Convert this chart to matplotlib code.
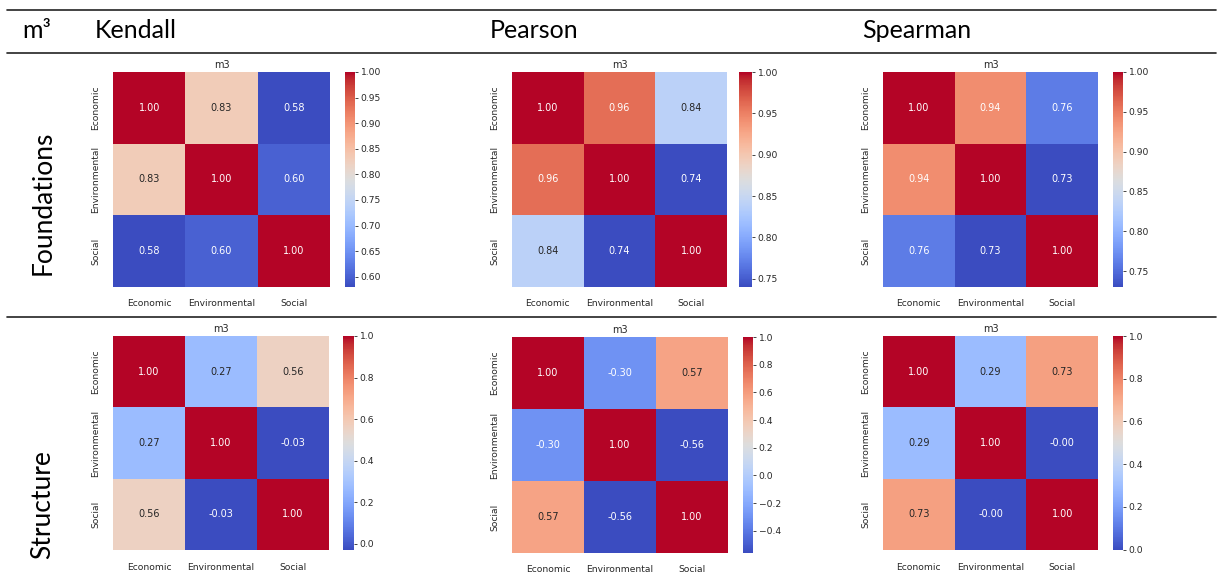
import matplotlib
matplotlib.use("Agg")
import matplotlib.pyplot as plt
import seaborn as sns
import numpy as np
from matplotlib.lines import Line2D

# correlation matrices
labels = ["Economic", "Environmental", "Social"]
methods = ["Kendall", "Pearson", "Spearman"]
rows = ["Foundations", "Structure"]

kendall_found = [[1.00, 0.83, 0.58],
                 [0.83, 1.00, 0.60],
                 [0.58, 0.60, 1.00]]
pearson_found = [[1.00, 0.96, 0.84],
                 [0.96, 1.00, 0.74],
                 [0.84, 0.74, 1.00]]
spearman_found = [[1.00, 0.94, 0.76],
                  [0.94, 1.00, 0.73],
                  [0.76, 0.73, 1.00]]
kendall_struct = [[1.00, 0.27, 0.56],
                  [0.27, 1.00, -0.03],
                  [0.56, -0.03, 1.00]]
pearson_struct = [[1.00, -0.30, 0.57],
                  [-0.30, 1.00, -0.56],
                  [0.57, -0.56, 1.00]]
spearman_struct = [[1.00, 0.29, 0.73],
                   [0.29, 1.00, -0.002],
                   [0.73, -0.002, 1.00]]

W, H = 1220, 575
fig = plt.figure(figsize=(W / 100, H / 100), dpi=100)
fig.patch.set_facecolor("white")

sns.set_theme(style="darkgrid")
plt.rcParams["font.family"] = ["DejaVu Sans"]


def px_axes(x, y, w, h):
    """add axes from pixel box (top-left origin)"""
    return fig.add_axes([x / W, 1 - (y + h) / H, w / W, h / H])


# heatmap box and colorbar box, in pixels
panels = [
    (kendall_found, (113, 72, 217, 215), (345, 72, 10, 215)),
    (pearson_found, (512, 72, 215, 215), (739, 72, 13, 215)),
    (spearman_found, (883, 72, 215, 215), (1113, 72, 10, 215)),
    (kendall_struct, (113, 336, 216, 214), (343, 336, 11, 214)),
    (pearson_struct, (512, 337, 216, 216), (743, 337, 10, 216)),
    (spearman_struct, (883, 336, 215, 214), (1113, 336, 10, 214)),
]

for data, hm_box, cb_box in panels:
    ax = px_axes(*hm_box)
    cax = px_axes(*cb_box)
    sns.heatmap(np.array(data), annot=True, fmt=".2f", cmap="coolwarm",
                xticklabels=labels, yticklabels=labels, ax=ax, cbar_ax=cax,
                annot_kws={"fontsize": 7})
    ax.set_title("m3", fontsize=7, pad=3, color="#262626")
    ax.tick_params(axis="both", labelsize=6.6, pad=3, colors="#262626")
    plt.setp(ax.get_xticklabels(), rotation=0)
    plt.setp(ax.get_yticklabels(), rotation=90, va="center")
    cax.tick_params(labelsize=6.6, length=2.5, width=0.6, pad=1.5, colors="#262626")

# table lines
for yy in [10, 53, 317]:
    fig.add_artist(Line2D([7 / W, 1216 / W], [1 - yy / H, 1 - yy / H],
                          color="#222222", lw=1.2))

# header and row labels
head_font = ["Lato", "DejaVu Sans"]
fig.text(22 / W, 1 - 31 / H, "m³", fontsize=18, family=head_font, va="center", color="black")
for name, xx in zip(methods, [95, 490, 862]):
    fig.text(xx / W, 1 - 31 / H, name, fontsize=18, family=head_font, va="center", color="black")
for name, yy in zip(rows, [203, 505]):
    fig.text(43 / W, 1 - yy / H, name, fontsize=19, family=head_font, rotation=90,
             va="center", ha="center", color="black")

fig.savefig("out.png", dpi=100, facecolor="white")
